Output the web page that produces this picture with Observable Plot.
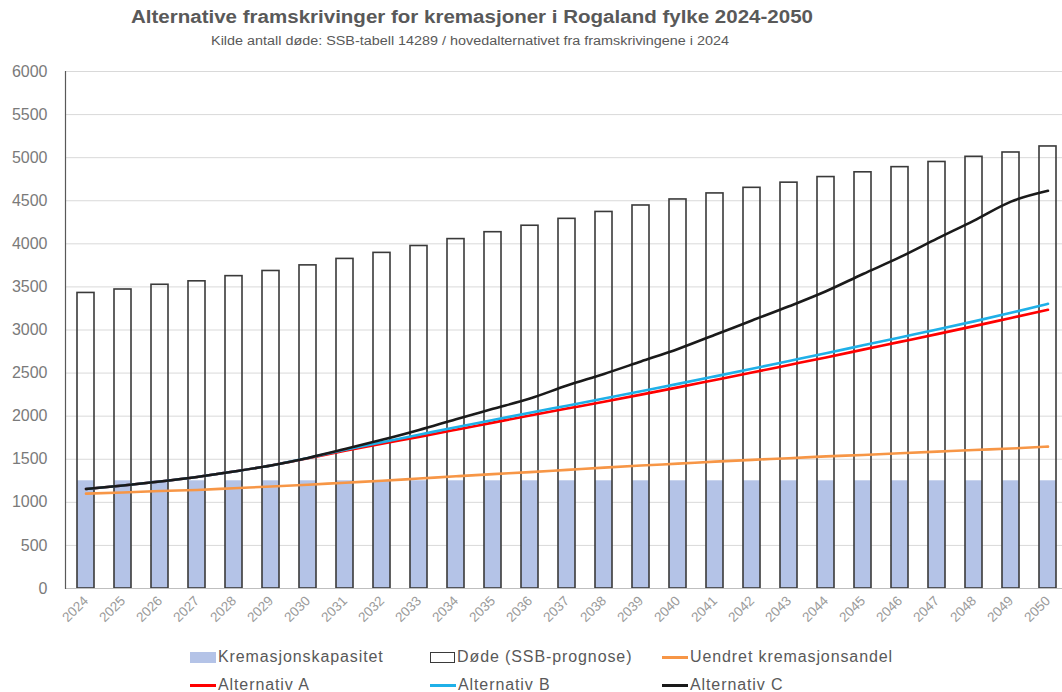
<!DOCTYPE html>
<html>
<head>
<meta charset="utf-8">
<script src="https://cdn.jsdelivr.net/npm/d3@7"></script>
<script src="https://cdn.jsdelivr.net/npm/@observablehq/plot@0.6"></script>
<style>
  html, body { margin: 0; padding: 0; background: #fff; }
  #wrap { position: relative; width: 1062px; height: 692px; overflow: hidden; font-family: "Liberation Sans", Arial, sans-serif; }
  #title { position: absolute; left: 0; top: 7px; width: 944px; text-align: center; font-weight: bold; font-size: 18px; color: #595959; transform: scaleX(1.14); transform-origin: 472px 0; }
  #subtitle { position: absolute; left: 0; top: 34px; width: 940px; text-align: center; font-size: 12.5px; color: #595959; transform: scaleX(1.15); transform-origin: 470px 0; }
  #chart { position: absolute; left: 0; top: 60px; }
  #legend { position: absolute; left: 0; top: 648px; width: 1062px; height: 44px; }
  .item { position: absolute; display: flex; align-items: center; font-size: 16px; letter-spacing: 0.9px; color: #595959; white-space: nowrap; }
  .sw { display: inline-block; margin-right: 2px; }
</style>
</head>
<body>
<div id="wrap">
  <div id="title">Alternative framskrivinger for kremasjoner i Rogaland fylke 2024-2050</div>
  <div id="subtitle">Kilde antall døde: SSB-tabell 14289 / hovedalternativet fra framskrivingene i 2024</div>
  <div id="chart"></div>
  <div id="legend"></div>
</div>
<script>
const years = ["2024","2025","2026","2027","2028","2029","2030","2031","2032","2033","2034","2035","2036","2037","2038","2039","2040","2041","2042","2043","2044","2045","2046","2047","2048","2049","2050"];
const kapasitet = [1250,1250,1250,1250,1250,1250,1250,1250,1250,1250,1250,1250,1250,1250,1250,1250,1250,1250,1250,1250,1250,1250,1250,1250,1250,1250,1250];
const dode = [3430,3470,3525,3565,3625,3685,3750,3825,3895,3975,4055,4135,4210,4290,4370,4445,4515,4585,4650,4710,4775,4830,4890,4950,5010,5060,5130];
const uendret = [1101,1114,1132,1144,1164,1183,1204,1228,1250,1276,1302,1327,1351,1377,1403,1427,1449,1472,1493,1512,1533,1550,1570,1589,1608,1624,1647];
const altA = [1155,1195,1242,1295,1358,1428,1512,1598,1680,1760,1842,1925,2008,2088,2168,2250,2334,2420,2506,2594,2682,2772,2862,2952,3045,3140,3234];
const altB = [1155,1195,1242,1295,1358,1428,1515,1610,1698,1785,1872,1955,2040,2122,2205,2290,2375,2462,2550,2640,2730,2822,2914,3005,3100,3200,3304];
const altC = [1155,1195,1242,1295,1358,1428,1515,1618,1725,1840,1965,2085,2205,2355,2490,2635,2780,2945,3110,3275,3450,3650,3845,4060,4270,4490,4615];
const yTicks = [0,500,1000,1500,2000,2500,3000,3500,4000,4500,5000,5500,6000];

const seriesNames = ["Kremasjonskapasitet","Døde (SSB-prognose)","Uendret kremasjonsandel","Alternativ A","Alternativ B","Alternativ C"];
const colors = {
  "Kremasjonskapasitet": "#b4c3e7",
  "Døde (SSB-prognose)": "#3a3a3a",
  "Uendret kremasjonsandel": "#f79646",
  "Alternativ A": "#ff0000",
  "Alternativ B": "#1fb0e8",
  "Alternativ C": "#1a1a1a"
};

const rows = years.map((y, i) => ({year: y, kap: kapasitet[i], dode: dode[i]}));
const lineData = [
  ["Uendret kremasjonsandel", uendret],
  ["Alternativ A", altA],
  ["Alternativ B", altB],
  ["Alternativ C", altC]
].flatMap(([name, vals]) => years.map((y, i) => ({year: y, value: vals[i], series: name})));

const plot = Plot.plot({
  width: 1062,
  height: 575,
  marginLeft: 65,
  marginRight: 0,
  marginTop: 11,
  marginBottom: 47,
  style: {fontFamily: "Liberation Sans, Arial, sans-serif", background: "transparent"},
  x: {type: "band", domain: years, range: [65, 1068.5], paddingInner: 0.54, paddingOuter: 0.27},
  y: {domain: [0, 6000]},
  marks: [
    Plot.gridY(yTicks, {stroke: "#d9d9d9", strokeOpacity: 1, strokeWidth: 1}),
    Plot.barY(rows, {x: "year", y: "kap", fill: colors["Kremasjonskapasitet"]}),
    Plot.barY(rows, {x: "year", y: "dode", fill: "none", stroke: colors["Døde (SSB-prognose)"], strokeWidth: 1.6}),
    Plot.ruleY([0], {stroke: "#bfbfbf"}),
    Plot.frame({anchor: "left", stroke: "#595959", strokeWidth: 1.2}),
    Plot.line(lineData, {x: "year", y: "value", z: "series", stroke: d => colors[d.series], strokeWidth: 2.6, curve: "monotone-x"}),
    Plot.axisY(yTicks, {tickSize: 0, tickPadding: 18, fontSize: 16, color: "#7a7a7a", tickFormat: d => String(d), label: null}),
    Plot.axisX({tickSize: 0, tickPadding: 10, tickRotate: -45, fontSize: 13.5, color: "#9a9a9a", label: null})
  ]
});
document.getElementById("chart").appendChild(plot);

// legend
const legendItems = [
  {name: seriesNames[0], kind: "fill", x: 190, y: 0},
  {name: seriesNames[1], kind: "box", x: 430, y: 0},
  {name: seriesNames[2], kind: "line", x: 662, y: 0},
  {name: seriesNames[3], kind: "line", x: 190, y: 28},
  {name: seriesNames[4], kind: "line", x: 430, y: 28},
  {name: seriesNames[5], kind: "line", x: 662, y: 28}
];
const legend = document.getElementById("legend");
for (const it of legendItems) {
  const d = document.createElement("div");
  d.className = "item";
  d.style.left = it.x + "px";
  d.style.top = it.y + "px";
  const sw = document.createElement("span");
  sw.className = "sw";
  sw.style.width = "26px";
  if (it.kind === "fill") { sw.style.height = "11px"; sw.style.background = colors[it.name]; }
  else if (it.kind === "box") { sw.style.height = "9px"; sw.style.width = "23px"; sw.style.border = "1.5px solid #3a3a3a"; }
  else { sw.style.height = "3px"; sw.style.background = colors[it.name]; }
  const t = document.createElement("span");
  t.textContent = it.name;
  d.appendChild(sw); d.appendChild(t);
  legend.appendChild(d);
}
</script>
</body>
</html>
